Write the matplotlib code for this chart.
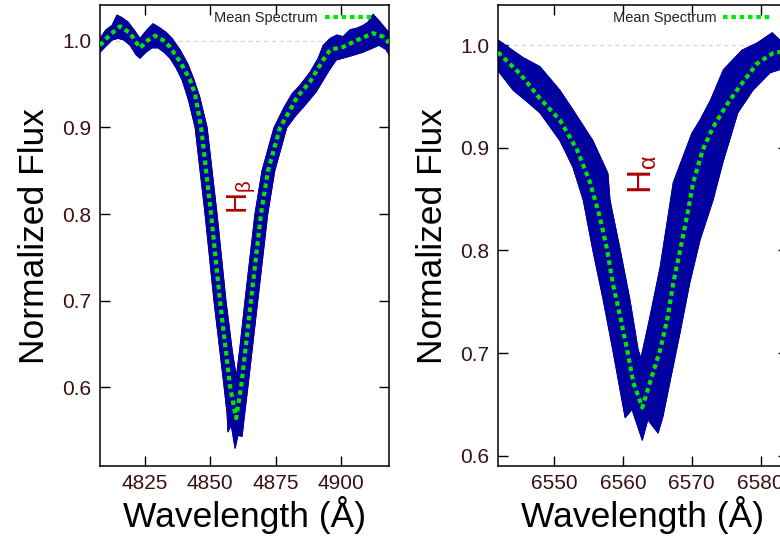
import numpy as np
import matplotlib
matplotlib.use('Agg')
import matplotlib.pyplot as plt
from matplotlib.ticker import FormatStrFormatter

plt.rcParams['font.family'] = ['Liberation Sans', 'DejaVu Sans']
plt.rcParams['mathtext.fontset'] = 'custom'
plt.rcParams['mathtext.rm'] = 'Liberation Sans'
plt.rcParams['mathtext.it'] = 'Liberation Sans'

# ---------------- H-beta panel data ----------------
hb_lam_mean = [4807.8, 4811.6, 4815.5, 4819.3, 4823.1, 4826.2, 4828.9, 4831.9, 4834.6,
               4838.4, 4842.3, 4844.2, 4846.5, 4850.3, 4853.7, 4857.6, 4859.9, 4861.8,
               4865.6, 4869.4, 4872.1, 4876.7, 4880.5, 4883.2, 4888.2, 4893.2, 4895.9,
               4900.8, 4906.2, 4912.3, 4916.1, 4918.4]
hb_mean = [0.995, 1.007, 1.017, 1.009, 0.992, 1.001, 1.006, 1.001, 0.993,
           0.976, 0.955, 0.938, 0.900, 0.800, 0.700, 0.600, 0.564, 0.600,
           0.700, 0.800, 0.850, 0.900, 0.920, 0.935, 0.953, 0.978, 0.990,
           0.993, 1.001, 1.009, 1.005, 0.998]

hb_lam_up = [4807.8, 4810.1, 4812.4, 4814.3, 4816.2, 4818.5, 4820.8, 4823.1, 4825.8,
             4828.1, 4830.8, 4833.1, 4835.4, 4838.4, 4841.5, 4843.8, 4846.0, 4848.8,
             4852.6, 4856.0, 4858.5, 4860.0, 4861.5, 4863.3, 4867.1, 4869.8, 4874.4,
             4878.2, 4881.3, 4884.4, 4888.2, 4891.3, 4893.2, 4895.9, 4898.5, 4900.8,
             4903.5, 4906.2, 4908.5, 4910.4, 4912.3, 4915.0, 4916.9, 4918.4]
hb_up = [1.003, 1.013, 1.018, 1.030, 1.027, 1.022, 1.013, 1.003, 1.013,
         1.020, 1.015, 1.010, 1.003, 0.990, 0.973, 0.955, 0.935, 0.900,
         0.800, 0.700, 0.640, 0.612, 0.650, 0.700, 0.800, 0.850, 0.900,
         0.923, 0.939, 0.949, 0.964, 0.980, 0.995, 1.003, 1.007, 1.005,
         1.013, 1.015, 1.018, 1.022, 1.031, 1.022, 1.015, 1.010]

hb_lam_lo = [4807.8, 4810.1, 4812.4, 4814.7, 4817.0, 4819.3, 4821.6, 4823.1, 4825.4,
             4827.7, 4830.0, 4832.3, 4834.6, 4836.9, 4839.2, 4840.7, 4841.8, 4844.2,
             4848.0, 4851.4, 4855.3, 4856.4, 4856.8, 4858.0, 4859.5, 4860.6, 4862.2,
             4862.9, 4864.4, 4868.2, 4872.0, 4874.7, 4879.3, 4882.8, 4885.5, 4890.5,
             4895.5, 4898.2, 4903.1, 4908.5, 4914.6, 4917.3, 4918.4]
hb_lo = [0.987, 0.994, 1.001, 1.003, 1.001, 0.995, 0.984, 0.980, 0.987,
         0.992, 0.992, 0.987, 0.980, 0.969, 0.955, 0.941, 0.930, 0.900,
         0.800, 0.700, 0.600, 0.570, 0.548, 0.556, 0.529, 0.544, 0.543,
         0.562, 0.600, 0.700, 0.800, 0.850, 0.900, 0.914, 0.923, 0.941,
         0.966, 0.978, 0.982, 0.987, 0.995, 0.990, 0.984]

# ---------------- H-alpha panel data ----------------
ha_lam_mean = [6541.8, 6545.0, 6547.9, 6550.8, 6553.3, 6555.2, 6556.6, 6557.7, 6558.5,
               6559.6, 6560.6, 6561.5, 6562.8, 6563.9, 6565.4, 6566.5, 6567.3, 6568.3,
               6569.3, 6570.2, 6571.6, 6573.1, 6575.1, 6577.0, 6579.5, 6581.8, 6584.3]
ha_mean = [0.993, 0.972, 0.948, 0.927, 0.898, 0.866, 0.833, 0.800, 0.768,
           0.735, 0.703, 0.671, 0.647, 0.671, 0.703, 0.735, 0.768, 0.800,
           0.833, 0.866, 0.898, 0.920, 0.942, 0.960, 0.982, 0.992, 0.995]

ha_lam_up = [6541.8, 6545.4, 6547.9, 6550.8, 6552.7, 6555.6, 6557.8, 6558.1, 6559.6,
             6561.0, 6562.2, 6562.6, 6563.9, 6565.4, 6567.3, 6570.0, 6571.2, 6572.7,
             6574.6, 6577.3, 6579.5, 6581.7, 6582.8, 6584.3]
ha_up = [1.005, 0.988, 0.979, 0.956, 0.937, 0.907, 0.875, 0.849, 0.800,
         0.752, 0.703, 0.695, 0.735, 0.784, 0.866, 0.914, 0.927, 0.946,
         0.976, 0.995, 1.002, 1.012, 1.005, 1.005]

ha_lam_lo = [6541.8, 6544.0, 6546.0, 6547.9, 6550.8, 6552.7, 6554.2, 6555.6, 6557.1,
             6558.5, 6560.3, 6561.3, 6562.8, 6563.6, 6565.1, 6565.8, 6566.8, 6568.3,
             6569.7, 6571.2, 6573.1, 6574.5, 6576.7, 6578.9, 6581.4, 6582.8, 6584.3]
ha_lo = [0.975, 0.956, 0.945, 0.934, 0.907, 0.881, 0.849, 0.800, 0.752,
         0.703, 0.637, 0.645, 0.615, 0.635, 0.622, 0.638, 0.671, 0.720,
         0.768, 0.810, 0.849, 0.885, 0.934, 0.956, 0.973, 0.976, 0.978]

hb_xticks = [4825, 4850, 4875, 4900]
ha_xticks = [6550, 6560, 6570, 6580]
yticks = [0.6, 0.7, 0.8, 0.9, 1.0]

BLUE = '#0000a0'
GREEN = '#00e800'
TICKCOL = '#3a1010'
RED = '#b00000'

fig = plt.figure(figsize=(7.8, 5.38), dpi=100)
ax1 = fig.add_axes([100/780, 72/538, 289/780, 461/538])
ax2 = fig.add_axes([498/780, 72/538, 290/780, 461/538])


def draw(ax, lam_mean, mean, lam_up, up, lam_lo, lo, xlim, ylim, xticks, label, lpos,
         lsize, wpx):
    ax.axhline(1.0, color='#d0d0d0', lw=0.8, ls=(0, (4, 3)), zorder=0)
    px = np.concatenate([lam_up, lam_lo[::-1]])
    py = np.concatenate([up, lo[::-1]])
    ax.fill(px, py, color=BLUE, lw=0.7, zorder=2)
    ax.plot(lam_up, up, color=BLUE, lw=0.6, zorder=2)
    ax.plot(lam_lo, lo, color=BLUE, lw=0.6, zorder=2)
    ax.plot(lam_mean, mean, color=GREEN, lw=3, ls=(0, (1.1, 0.9)),
            dash_capstyle='butt', label='Mean Spectrum', zorder=3)
    ax.set_xlim(*xlim)
    ax.set_ylim(*ylim)
    ax.set_xticks(xticks)
    ax.set_yticks(yticks)
    ax.yaxis.set_major_formatter(FormatStrFormatter('%.1f'))
    ax.tick_params(direction='in', length=7, width=1, top=True, right=True,
                   labelsize=15, labelcolor=TICKCOL, pad=6)
    for s in ax.spines.values():
        s.set_linewidth(1.1)
    ax.set_xlabel('Wavelength (Å)', fontsize=25.5, labelpad=2)
    ax.set_ylabel('Normalized Flux', fontsize=25.5, labelpad=8)
    leg = ax.legend(loc='upper right', bbox_to_anchor=(1 - 12 / wpx, 1 - 2 / 461),
                    frameon=False, fontsize=10.5, markerfirst=False,
                    handlelength=3.3, handletextpad=0.5, borderaxespad=0.1, borderpad=0.2)
    for t in leg.get_texts():
        t.set_color('#222222')
    ax.text(lpos[0], lpos[1], label, rotation=90, color=RED, fontsize=lsize,
            ha='center', va='center', zorder=4)


draw(ax1, hb_lam_mean, hb_mean, np.array(hb_lam_up), np.array(hb_up),
     np.array(hb_lam_lo), np.array(hb_lo), (4807.8, 4918.4), (0.5087, 1.0416),
     hb_xticks, r'$\mathrm{H_{β}}$', (4862.2, 0.820), 21, 289)
draw(ax2, ha_lam_mean, ha_mean, np.array(ha_lam_up), np.array(ha_up),
     np.array(ha_lam_lo), np.array(ha_lo), (6541.8, 6584.0), (0.590, 1.039),
     ha_xticks, r'$\mathrm{H_{α}}$', (6562.8, 0.874), 24, 290)

fig.savefig('out.png', dpi=100)
